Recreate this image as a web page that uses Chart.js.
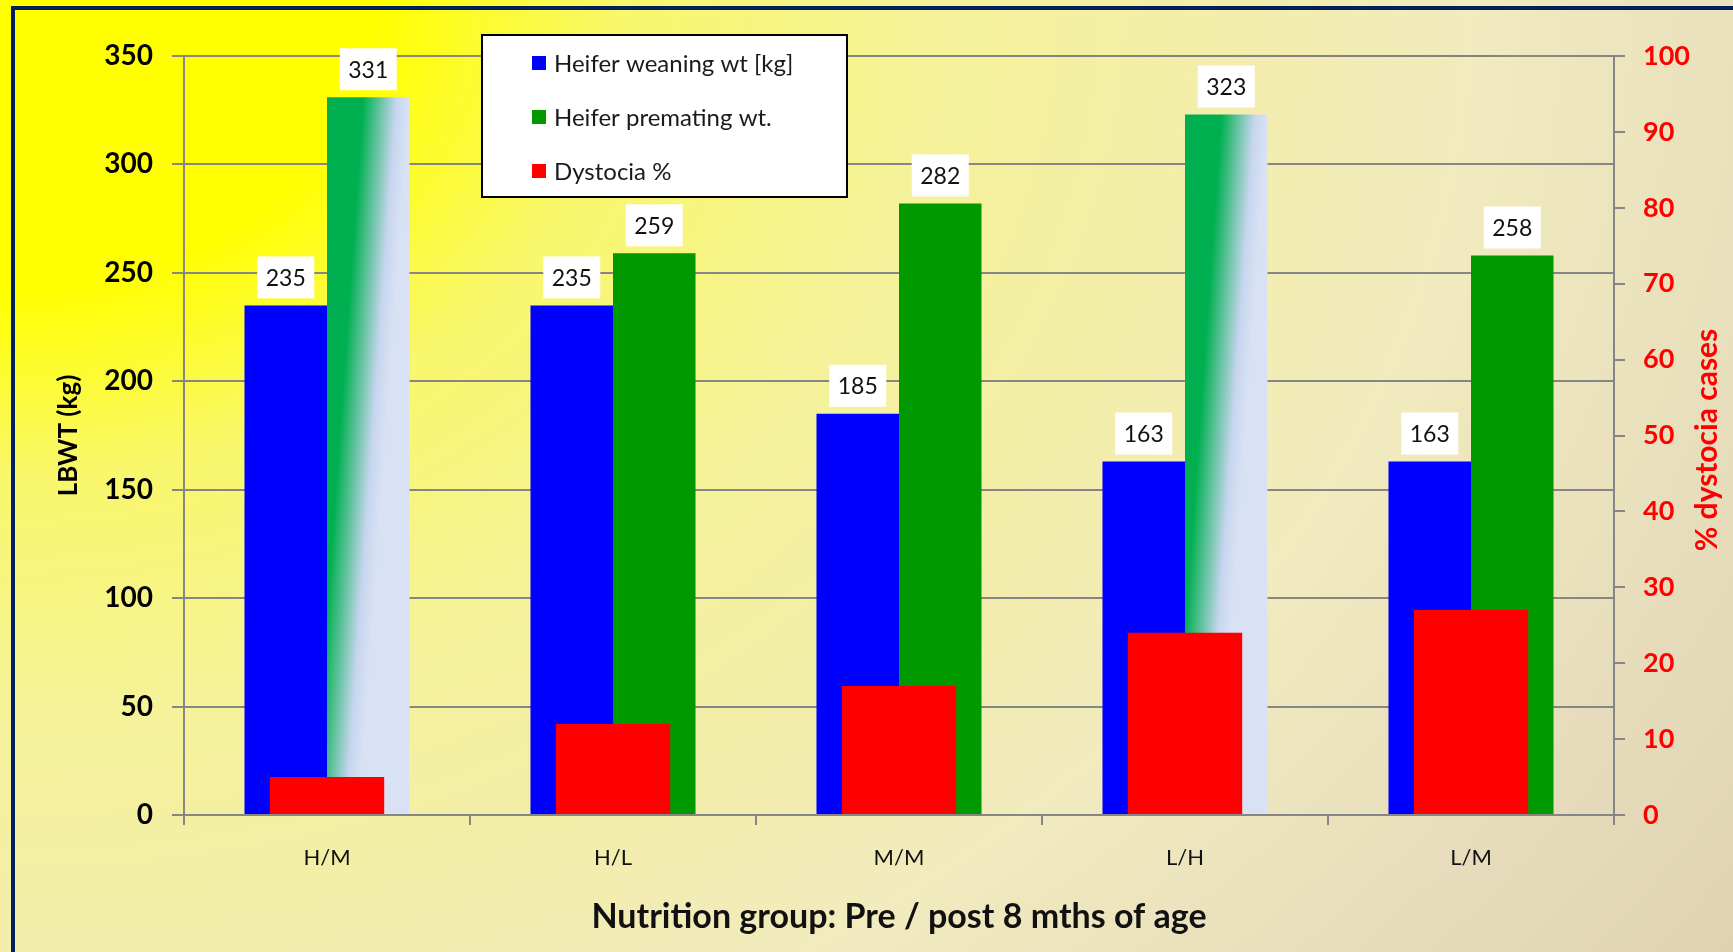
<!DOCTYPE html>
<html>
<head>
<meta charset="utf-8">
<script src="https://cdn.jsdelivr.net/npm/chart.js@4.4.0/dist/chart.umd.min.js"></script>
<style>
html, body { margin: 0; padding: 0; width: 1733px; height: 952px; overflow: hidden; }
#bg {
    position: absolute; left: 0; top: 0; width: 1733px; height: 952px;
    background: radial-gradient(ellipse 2200px 1700px at 0 0, #ffff00 0%, #ffff00 17%, #f9f76a 28%, #f5f299 42%, #f3eea8 54%, #f1ebbe 67%, #e6dcbc 84%, #ddd0b0 100%);
}
#frame { position: absolute; left: 11px; top: 6px; width: 1800px; height: 1000px; border: 4px solid #02205a; }
#wrap { position: absolute; left: 0; top: 0; width: 1733px; height: 952px; }
</style>
</head>
<body>
<div id="bg"></div>
<div id="frame"></div>
<div id="wrap"><canvas id="chart" width="1733" height="952"></canvas></div>
<script>
// Nutrition groups and measured values
const groups = ['H/M', 'H/L', 'M/M', 'L/H', 'L/M'];
const weaningWt = [235, 235, 185, 163, 163];
const prematingWt = [331, 259, 282, 323, 258];
const dystociaPct = [5, 12, 17, 24, 27];

const seriesNames = ['Heifer weaning wt [kg]', 'Heifer premating wt.', 'Dystocia %'];
const seriesColors = ['#0000ff', '#009900', '#ff0000'];

// bars drawn with the green-to-blue fade
const fadedBars = [0, 3];

const FONT = 'Lato, "Open Sans", sans-serif';
const GRID = '#868686';
const pairPct = 0.577;

function fadedGreen(c) {
    if (!fadedBars.includes(c.dataIndex)) return seriesColors[1];
    const chart = c.chart;
    const xs = chart.scales.x, ys = chart.scales.y;
    if (!xs || !ys || !chart.chartArea) return '#00b050';
    const w = xs.width / groups.length * pairPct / 2;
    const left = xs.getPixelForValue(c.dataIndex);
    const top = ys.getPixelForValue(c.raw);
    const g = chart.ctx.createLinearGradient(left, top, left + w, top + 0.071 * w);
    g.addColorStop(0, '#00b050');
    g.addColorStop(0.44, '#00b050');
    g.addColorStop(0.84, '#c6d5ee');
    g.addColorStop(1, '#d9e2f4');
    return g;
}

// white boxes with the values above the weight bars
const valueBoxes = {
    id: 'valueBoxes',
    afterDatasetsDraw(chart) {
        const ctx = chart.ctx;
        ctx.save();
        ctx.font = '23px ' + FONT;
        ctx.textAlign = 'center';
        ctx.textBaseline = 'middle';
        [0, 1].forEach(di => {
            const meta = chart.getDatasetMeta(di);
            meta.data.forEach((bar, i) => {
                const bw = 57, bh = 42;
                const bottom = bar.y - 7;
                ctx.fillStyle = '#ffffff';
                ctx.fillRect(bar.x - bw / 2, bottom - bh, bw, bh);
                ctx.fillStyle = '#111111';
                ctx.fillText(chart.data.datasets[di].data[i], bar.x, bottom - bh / 2 + 1);
            });
        });
        ctx.restore();
    }
};

// boxed legend inside the plot + right axis title
const extras = {
    id: 'extras',
    afterDraw(chart) {
        const ctx = chart.ctx;
        ctx.save();
        ctx.fillStyle = '#ffffff';
        ctx.fillRect(482, 35, 365, 162);
        ctx.strokeStyle = '#000000';
        ctx.lineWidth = 2;
        ctx.strokeRect(482, 35, 365, 162);
        ctx.font = '24px ' + FONT;
        ctx.textBaseline = 'middle';
        seriesNames.forEach((name, i) => {
            const y = 63 + i * 54;
            ctx.fillStyle = seriesColors[i];
            ctx.fillRect(532, y - 7, 14, 14);
            ctx.fillStyle = '#1a1a1a';
            ctx.fillText(name, 554, y + 1);
        });

        ctx.translate(1707, 440);
        ctx.rotate(-Math.PI / 2);
        ctx.fillStyle = '#ff0000';
        ctx.font = 'bold 30px ' + FONT;
        ctx.textAlign = 'center';
        ctx.fillText('% dystocia cases', 0, 0);
        ctx.restore();
    }
};

new Chart(document.getElementById('chart'), {
    type: 'bar',
    data: {
        labels: groups,
        datasets: [{
            label: seriesNames[0],
            data: weaningWt,
            backgroundColor: seriesColors[0],
            yAxisID: 'y',
            categoryPercentage: pairPct,
            barPercentage: 1,
            order: 1
        }, {
            label: seriesNames[1],
            data: prematingWt,
            backgroundColor: fadedGreen,
            yAxisID: 'y',
            categoryPercentage: pairPct,
            barPercentage: 1,
            order: 1
        }, {
            label: seriesNames[2],
            data: dystociaPct,
            backgroundColor: seriesColors[2],
            yAxisID: 'y1',
            grouped: false,
            categoryPercentage: 1,
            barPercentage: 0.4,
            order: 0
        }]
    },
    options: {
        responsive: false,
        animation: false,
        layout: { padding: { top: 56, left: 0, right: 0, bottom: 0 } },
        plugins: {
            legend: { display: false },
            tooltip: { enabled: false }
        },
        scales: {
            x: {
                afterFit: (s) => { s.height = 137; },
                grid: { drawOnChartArea: false, drawTicks: true, tickLength: 10, color: GRID, lineWidth: 2 },
                border: { color: GRID, width: 2 },
                ticks: { color: '#111111', font: { family: FONT, size: 22 }, padding: 20 },
                title: {
                    display: true,
                    text: 'Nutrition group: Pre / post 8 mths of age',
                    color: '#111111',
                    font: { family: FONT, size: 34, weight: 'bold' },
                    padding: { top: 0, bottom: 15 }
                }
            },
            y: {
                position: 'left',
                min: 0,
                max: 350,
                afterFit: (s) => { s.width = 184; },
                grid: { color: GRID, lineWidth: 2, tickLength: 12 },
                border: { color: GRID, width: 2 },
                ticks: { stepSize: 50, color: '#000000', font: { family: FONT, size: 28, weight: 'bold' }, padding: 19 },
                title: {
                    display: true,
                    text: 'LBWT (kg)',
                    color: '#000000',
                    font: { family: FONT, size: 26, weight: 'bold' },
                    padding: { top: 53, bottom: 0 }
                }
            },
            y1: {
                position: 'right',
                min: 0,
                max: 100,
                afterFit: (s) => { s.width = 119; },
                grid: { drawOnChartArea: false, color: GRID, lineWidth: 2, tickLength: 11 },
                border: { color: GRID, width: 2 },
                ticks: { stepSize: 10, color: '#ff0000', font: { family: FONT, size: 27, weight: 'bold' }, padding: 18 }
            }
        }
    },
    plugins: [valueBoxes, extras]
});
</script>
</body>
</html>
